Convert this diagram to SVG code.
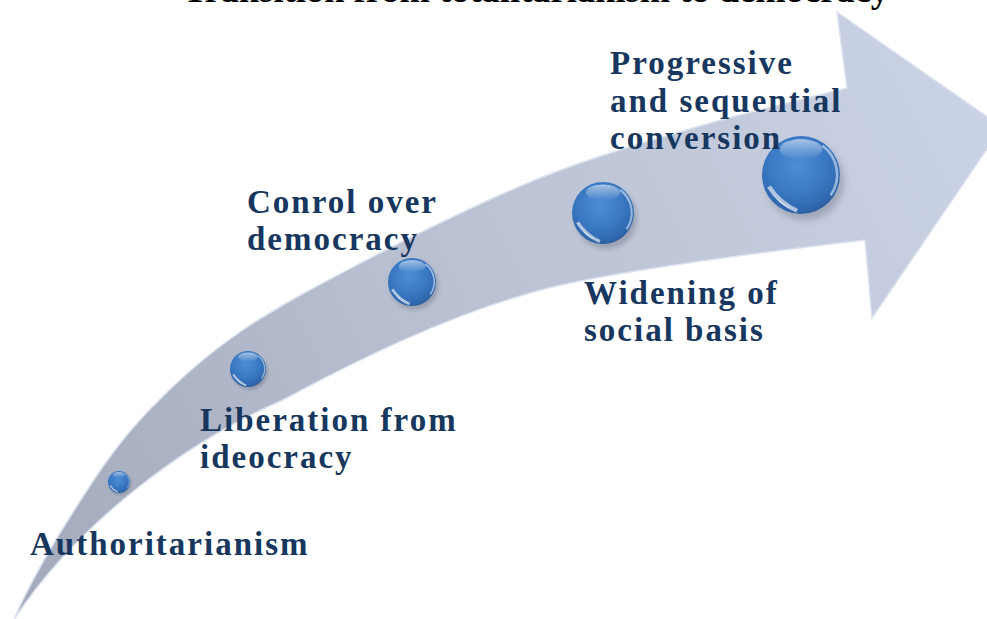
<svg xmlns="http://www.w3.org/2000/svg" width="987" height="619" viewBox="0 0 987 619">
<defs>
<style>
.lbl{font-family:"Liberation Serif","Times New Roman",serif;font-weight:bold;font-size:33px;letter-spacing:2px;fill:#17375e}
.title{font-family:"Liberation Serif","Times New Roman",serif;font-weight:bold;font-size:36.5px;fill:#000}
</style>
<linearGradient id="arrowGrad" gradientUnits="userSpaceOnUse" x1="0" y1="600" x2="987" y2="100">
<stop offset="0" stop-color="#a2a9ba"/>
<stop offset="0.45" stop-color="#b7bfd0"/>
<stop offset="1" stop-color="#cad2e5"/>
</linearGradient>
<radialGradient id="ballGrad" cx="0.45" cy="0.38" r="0.65">
<stop offset="0" stop-color="#4d8dd6"/>
<stop offset="0.55" stop-color="#3a79c4"/>
<stop offset="0.88" stop-color="#2f67ad"/>
<stop offset="1" stop-color="#285996"/>
</radialGradient>
<linearGradient id="topHi" x1="0" y1="0" x2="0" y2="1">
<stop offset="0" stop-color="#ffffff" stop-opacity="0.55"/>
<stop offset="1" stop-color="#ffffff" stop-opacity="0"/>
</linearGradient>
<filter id="blur" x="-50%" y="-50%" width="200%" height="200%">
<feGaussianBlur stdDeviation="0.9"/>
</filter>
<g id="ball">
<circle cx="1" cy="1.6" r="10" fill="#5a6070" opacity="0.35" filter="url(#blur)"/>
<circle cx="0" cy="0" r="10" fill="url(#ballGrad)"/>
<ellipse cx="0" cy="-6.6" rx="5.5" ry="2.6" fill="url(#topHi)"/>
<path d="M5.5,-7.5 A9.2,9.2 0 0 1 7.6,5.2" fill="none" stroke="#d6e8fa" stroke-width="0.7" opacity="0.6"/>
<path d="M-8.6,2.2 Q-7,6.4 -2.6,8.6 Q-6.2,7.6 -8.6,2.2 Z" fill="#ffffff" opacity="0.9"/>
<path d="M-8.2,3 Q-5.5,7.2 -1,9.2" fill="none" stroke="#ffffff" stroke-width="1.1" opacity="0.6"/>
</g>
</defs>
<rect width="987" height="619" fill="#ffffff"/>
<text class="title" x="536" y="2" text-anchor="middle">Transition from totalitarianism to democracy</text>
<g id="connectors">
<path id="arrow" d="M15,617 C30,583 49.2,549.8 70,517 C90.8,484.2 111.7,450.8 140,420 C168.3,389.2 200,359.5 240,332 C280,304.5 330,279 380,253 C430,227.5 486.7,199.5 540,178 C593.3,156.5 648.8,141 700,126 C751.2,111 822.5,94.3 847,88 L837,12 L1002,127 L872,318 L865,240 C780,250 660,265 575,282 C481,301 373,351 283,400 C190,440 80,520 15,618 Z" fill="url(#arrowGrad)" stroke="#dbe2ee" stroke-width="1.5" stroke-linejoin="miter"/>
</g>
<g id="node-authoritarianism">
<use href="#ball" transform="translate(119,482) scale(1.1)"/>
<text class="lbl" x="30" y="555">Authoritarianism</text>
</g>
<g id="node-liberation">
<use href="#ball" transform="translate(248,369) scale(1.8)"/>
<text class="lbl" x="200" y="431">Liberation from</text>
<text class="lbl" x="200" y="468">ideocracy</text>
</g>
<g id="node-control">
<use href="#ball" transform="translate(412,282) scale(2.4)"/>
<text class="lbl" x="247" y="213">Conrol over</text>
<text class="lbl" x="247" y="250">democracy</text>
</g>
<g id="node-widening">
<use href="#ball" transform="translate(603,213) scale(3.1)"/>
<text class="lbl" x="584" y="304">Widening of</text>
<text class="lbl" x="584" y="341">social basis</text>
</g>
<g id="node-progressive">
<use href="#ball" transform="translate(801,175) scale(3.9)"/>
<text class="lbl" x="610" y="74">Progressive</text>
<text class="lbl" x="610" y="112">and sequential</text>
<text class="lbl" x="610" y="149">conversion</text>
</g>
</svg>
